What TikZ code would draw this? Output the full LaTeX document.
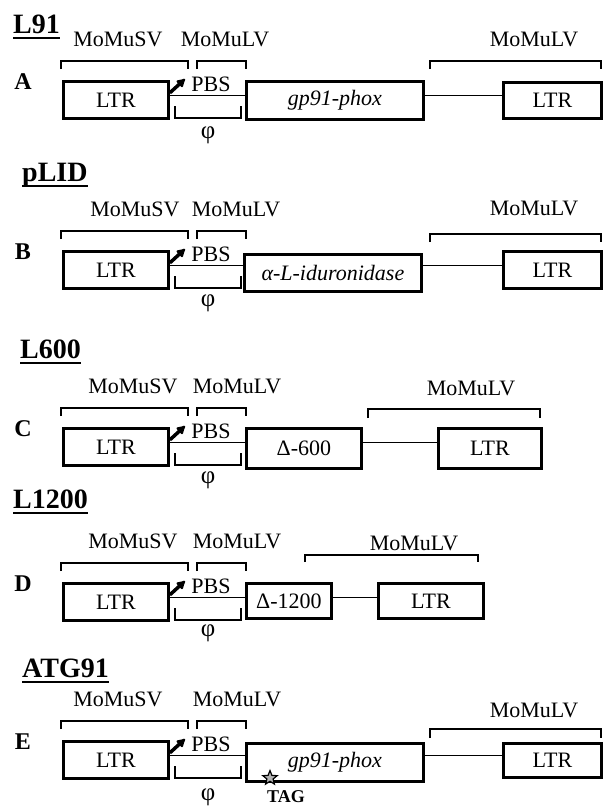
\documentclass[tikz,border=0pt]{standalone}
\usepackage{fontspec}
\setmainfont{Liberation Serif}
\usetikzlibrary{arrows.meta, positioning, shapes.geometric}

\tikzset{
  seg/.style={draw, line width=2.8pt, inner sep=0pt, anchor=north west},
  brk/.style={line width=2.2pt},
  link/.style={line width=1.6pt},
  prom/.style={line width=3.5pt, -{Latex[round, length=10pt, width=11pt]}},
  title/.style={font=\fontsize{28}{32}\selectfont\bfseries, anchor=base west, inner sep=0pt},
  uline/.style={line width=2.2pt},
  rowlabel/.style={font=\fontsize{24}{28}\selectfont\bfseries},
  psi/.style={font=\fontsize{25}{28}\selectfont},
}

% common 5' part of every vector: LTR, promoter, PBS, brackets and psi
\newcommand{\leftpart}[4]{% #1 name, #2 letter, #3 MoMuSV x, #4 MoMuLV x
  \node[rowlabel] (let#1) at (23,2) {#2};
  \node[seg, minimum width=105pt, minimum height=37pt] (ltr#1) at (62,0) {LTR};
  \node (pbs#1) at (211,4) {PBS};
  \coordinate (p#1) at (185,-1);
  \draw[prom] ([yshift=7pt]ltr#1.east) -- (p#1);
  \node (sv#1) at (#3,-41) {MoMuSV};
  \node (lv#1) at (#4,-41) {MoMuLV};
  \draw[brk] (61,-11) |- (188,-19) -- (188,-11);
  \draw[brk] (197,-11) |- (246,-19) -- (246,-11);
  \draw[brk] (175,26) |- (241,38) -- (241,26);
}

\begin{document}
\begin{tikzpicture}[x=1pt, y=-1pt, font=\fontsize{22}{26}\selectfont]
  \useasboundingbox (0,0) rectangle (603,809);

  % L91
  \node[title] (tA) at (13,33) {L91};
  \draw[uline] ([yshift=-5pt]tA.base west) -- ([yshift=-5pt]tA.base east);
  \begin{scope}[shift={(0,80)}]
    \leftpart{A}{A}{118}{225}
    \node[psi] (phiA) at (208,55) {φ};
    \node[seg, minimum width=177pt, minimum height=38pt] (geneA) at (245,0) {\itshape gp91-phox};
    \node[seg, minimum width=98pt, minimum height=36pt] (ltrbA) at (502,1) {LTR};
    \coordinate (cA) at ([yshift=4.5pt]ltrA.east);
    \draw[link] (cA) -- (cA -| geneA.west) (cA -| geneA.east) -- (cA -| ltrbA.west);
    \node (lvbA) at (534,-41) {MoMuLV};
    \draw[brk] (430,-11) |- (601,-19) -- (601,-11);
  \end{scope}

  % pLID
  \node[title] (tB) at (22,181) {pLID};
  \draw[uline] ([yshift=-5pt]tB.base west) -- ([yshift=-5pt]tB.base east);
  \begin{scope}[shift={(0,250)}]
    \leftpart{B}{B}{135}{236}
    \node[psi] (phiB) at (208,53) {φ};
    \node[seg, minimum width=177pt, minimum height=37pt] (geneB) at (243,3) {\itshape α-L-iduronidase};
    \node[seg, minimum width=98pt, minimum height=37pt] (ltrbB) at (502,0) {LTR};
    \coordinate (cB) at ([yshift=4.5pt]ltrB.east);
    \draw[link] (cB) -- (cB -| geneB.west) (cB -| geneB.east) -- (cB -| ltrbB.west);
    \node (lvbB) at (534,-42) {MoMuLV};
    \draw[brk] (430,-8) |- (601,-16) -- (601,-8);
  \end{scope}

  % L600
  \node[title] (tC) at (20,358) {L600};
  \draw[uline] ([yshift=-5pt]tC.base west) -- ([yshift=-5pt]tC.base east);
  \begin{scope}[shift={(0,427)}]
    \leftpart{C}{C}{133}{237}
    \node[psi] (phiC) at (208,53) {φ};
    \node[seg, minimum width=115pt, minimum height=40pt] (geneC) at (245,0) {Δ-600};
    \node[seg, minimum width=103pt, minimum height=40pt] (ltrbC) at (437,0) {LTR};
    \coordinate (cC) at ([yshift=4.5pt]ltrC.east);
    \draw[link] (cC) -- (cC -| geneC.west) (cC -| geneC.east) -- (cC -| ltrbC.west);
    \node (lvbC) at (471,-39) {MoMuLV};
    \draw[brk] (368,-9) |- (540,-18) -- (540,-9);
  \end{scope}

  % L1200
  \node[title] (tD) at (13,508) {L1200};
  \draw[uline] ([yshift=-5pt]tD.base west) -- ([yshift=-5pt]tD.base east);
  \begin{scope}[shift={(0,582)}]
    \leftpart{D}{D}{133}{237}
    \node[psi] (phiD) at (208,51) {φ};
    \node[seg, minimum width=85pt, minimum height=35pt] (geneD) at (245,0) {Δ-1200};
    \node[seg, minimum width=105pt, minimum height=35pt] (ltrbD) at (377,0) {LTR};
    \coordinate (cD) at ([yshift=4.5pt]ltrD.east);
    \draw[link] (cD) -- (cD -| geneD.west) (cD -| geneD.east) -- (cD -| ltrbD.west);
    \node (lvbD) at (414,-39) {MoMuLV};
    \draw[brk] (305,-20) |- (478,-27) -- (478,-20);
  \end{scope}

  % ATG91
  \node[title] (tE) at (22,677) {ATG91};
  \draw[uline] ([yshift=-5pt]tE.base west) -- ([yshift=-5pt]tE.base east);
  \begin{scope}[shift={(0,740)}]
    \leftpart{E}{E}{118}{237}
    \node[psi] (phiE) at (208,57) {φ};
    \node[seg, minimum width=177pt, minimum height=38pt] (geneE) at (245,2) {\itshape gp91-phox};
    \node[seg, minimum width=98pt, minimum height=34pt] (ltrbE) at (502,2) {LTR};
    \coordinate (cE) at ([yshift=4.5pt]ltrE.east);
    \draw[link] (cE) -- (cE -| geneE.west) (cE -| geneE.east) -- (cE -| ltrbE.west);
    \node (lvbE) at (534,-30) {MoMuLV};
    \draw[brk] (430,-2) |- (601,-11) -- (601,-2);
    \node[star, star points=5, star point ratio=2.3, draw, line width=1.2pt, fill=gray!60, minimum size=15pt, inner sep=0pt] (stop) at (270,38) {};
    \node[font=\fontsize{18}{22}\selectfont\bfseries] (tag) at (286,57) {TAG};
  \end{scope}
\end{tikzpicture}
\end{document}
